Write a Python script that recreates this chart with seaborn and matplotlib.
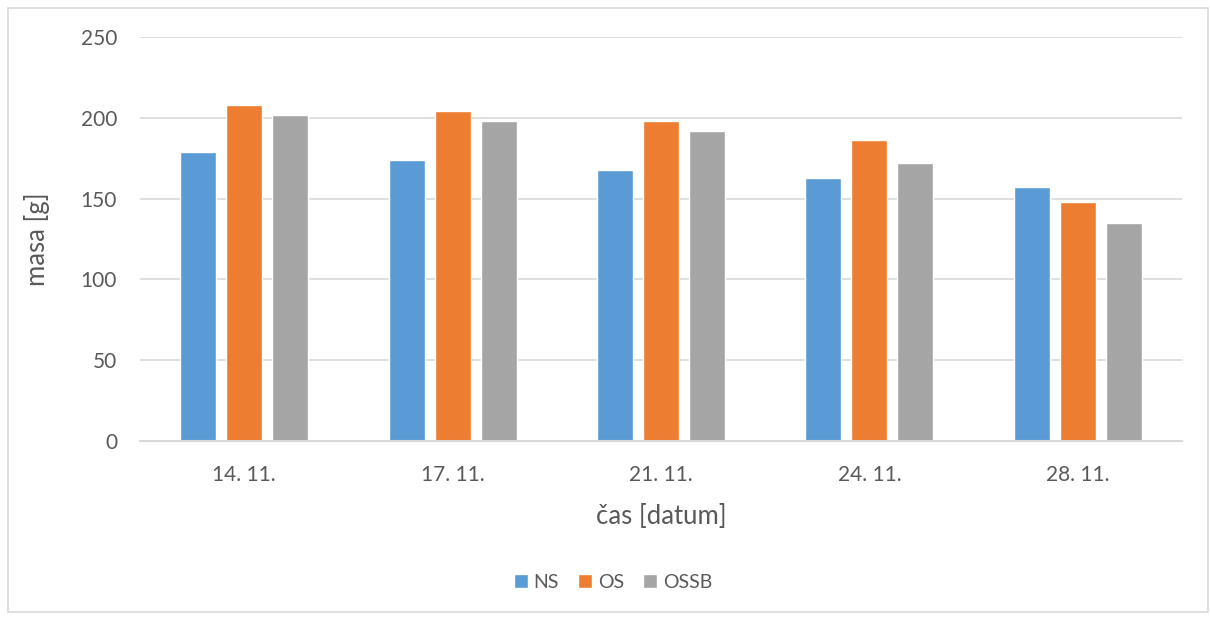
import matplotlib
matplotlib.use("Agg")
import matplotlib.pyplot as plt
from matplotlib.patches import Rectangle
import seaborn as sns
import pandas as pd

# Sample mass over time for three storage variants
dates = ["14. 11.", "17. 11.", "21. 11.", "24. 11.", "28. 11."]
ns = [179, 174, 168, 163, 157]
os_ = [208, 204, 198, 186, 148]
ossb = [202, 198, 192, 172, 135]
series = ["NS", "OS", "OSSB"]
colors = ["#5B9BD5", "#ED7D31", "#A5A5A5"]
yticks = [0, 50, 100, 150, 200, 250]

df = pd.DataFrame({
    "datum": dates * 3,
    "masa": ns + os_ + ossb,
    "vzorek": [s for s in series for _ in dates],
})

sns.set_theme(style="white")
plt.rcParams["font.family"] = ["Lato", "DejaVu Sans"]
text_color = "#595959"
grid_color = "#D9D9D9"

W, H = 1210, 617
fig = plt.figure(figsize=(W / 100, H / 100), dpi=100)
ax = fig.add_axes([140 / W, 1 - 441 / H, (1182 - 140) / W, (441 - 37) / H])

sns.barplot(data=df, x="datum", y="masa", hue="vzorek", order=dates,
            hue_order=series, palette=colors, width=0.662, gap=0.217,
            saturation=1, ax=ax, legend=True, zorder=3)

ax.set_ylim(0, 250)
ax.set_xlim(-0.5, len(dates) - 0.5)
ax.set_yticks(yticks)
ax.yaxis.grid(True, color=grid_color, linewidth=1.2, zorder=0)
ax.set_axisbelow(True)
for side in ["top", "right", "left"]:
    ax.spines[side].set_visible(False)
ax.spines["bottom"].set_color(grid_color)
ax.spines["bottom"].set_linewidth(1.5)
ax.spines["bottom"].set_zorder(4)
ax.tick_params(axis="both", length=0, labelsize=15, colors=text_color)
ax.tick_params(axis="y", pad=16.5)
ax.tick_params(axis="x", pad=17)

ax.set_xlabel("čas [datum]", fontsize=18.5, color=text_color, labelpad=14)
ax.set_ylabel("masa [g]", fontsize=18.5, color=text_color, labelpad=22)

handles, labels = ax.get_legend_handles_labels()
ax.legend_.remove()
fig.legend(handles, labels, loc="center", bbox_to_anchor=(613 / W, 1 - 582 / H),
           ncol=3, frameon=False, fontsize=14, labelcolor=text_color,
           handlelength=0.7, handleheight=0.7, handletextpad=0.3,
           columnspacing=1.0)

# Light chart-area border
fig.patches.append(Rectangle((8 / W, 1 - 612 / H), (1208 - 8) / W, (612 - 8) / H,
                             transform=fig.transFigure, fill=False,
                             edgecolor=grid_color, linewidth=1.2))

fig.savefig("out.png", dpi=100)
